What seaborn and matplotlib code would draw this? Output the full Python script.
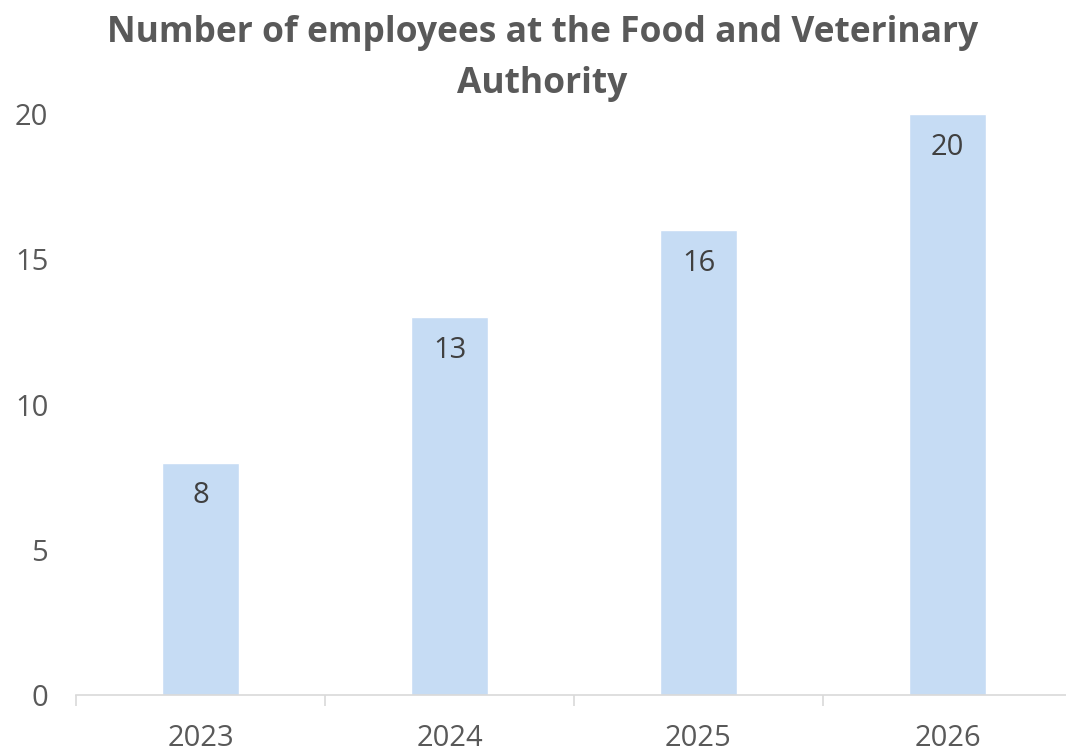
import numpy as np
import pandas as pd
import matplotlib
matplotlib.use("Agg")
import matplotlib.pyplot as plt
import seaborn as sns

years = ["2023", "2024", "2025", "2026"]
employees = [8, 13, 16, 20]
title = "Number of employees at the Food and Veterinary\nAuthority"

df = pd.DataFrame({"year": years, "employees": employees})

sns.set_style("white")
plt.rcParams["font.family"] = ["Open Sans", "DejaVu Sans"]

fig = plt.figure(figsize=(10.66, 7.52), dpi=100)
ax = fig.add_axes([0.0713, 0.0758, 0.9343, 0.7726])

sns.barplot(data=df, x="year", y="employees", color="#C6DCF4", saturation=1,
            width=0.313, ax=ax)

ax.set_xlim(-0.5, 3.5)
ax.set_ylim(0, 20)
ax.set_yticks([0, 5, 10, 15, 20])
ax.set_xlabel("")
ax.set_ylabel("")

for s in ["top", "right", "left"]:
    ax.spines[s].set_visible(False)
ax.spines["bottom"].set_color("#D9D9D9")
ax.spines["bottom"].set_linewidth(1.2)

ax.tick_params(axis="y", length=0, labelsize=21, labelcolor="#595959", pad=20)
ax.tick_params(axis="x", which="major", length=0, labelsize=21,
               labelcolor="#595959", pad=21)
# tick marks between categories
ax.set_xticks(np.arange(-0.5, 4, 1), minor=True)
ax.tick_params(axis="x", which="minor", bottom=True, length=8, width=1.2,
               color="#D9D9D9", direction="out")

# value labels inside bar tops
for i, v in enumerate(employees):
    ax.annotate(str(v), (i, v), xytext=(0, -33), textcoords="offset pixels",
                ha="center", va="center", fontsize=21, color="#404040")

fig.text(0.509, 0.98, title, ha="center", va="top", fontsize=25.5,
         fontweight="bold", color="#595959", linespacing=1.55)

fig.savefig("out.png", dpi=100)
